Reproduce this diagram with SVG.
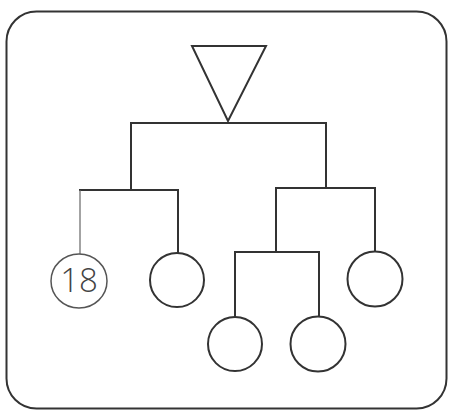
<svg xmlns="http://www.w3.org/2000/svg" width="449" height="411" viewBox="0 0 449 411">
<style>
.ln{fill:none;stroke:#333;stroke-width:2;stroke-linecap:square}
.thin{fill:none;stroke:#666;stroke-width:1.2}
.nd{fill:#fff;stroke:#333;stroke-width:2}
.lt{fill:#fff;stroke:#555;stroke-width:1.5}
.tx{font-family:"Open Sans","Liberation Sans",Arial,sans-serif;font-weight:300;font-size:33px;fill:#444}
</style>
<rect width="449" height="411" fill="#fff"/>
<rect id="frame" x="6.5" y="11.5" width="440" height="397" rx="30" ry="30" fill="none" stroke="#333" stroke-width="2"/>
<g id="connectors">
<polyline class="ln" points="131,190 131,123 326,123 326,188"/>
<polyline class="ln" points="80,190 178,190 178,253"/>
<line class="thin" x1="80" y1="190" x2="80" y2="254"/>
<polyline class="ln" points="276,252 276,188 375,188 375,252"/>
<polyline class="ln" points="235,317 235,252 319,252 319,317"/>
</g>
<g id="root"><polygon class="nd" points="192,46 266,46 228,121"/></g>
<g id="n18"><ellipse class="lt" cx="79" cy="281" rx="28" ry="27"/><text class="tx" x="79" y="292" text-anchor="middle">18</text></g>
<g id="n2"><circle class="nd" cx="177" cy="280" r="27"/></g>
<g id="n3"><circle class="nd" cx="375" cy="279" r="27.5"/></g>
<g id="n4"><circle class="nd" cx="235" cy="344" r="27"/></g>
<g id="n5"><circle class="nd" cx="318" cy="344" r="27.5"/></g>
</svg>
